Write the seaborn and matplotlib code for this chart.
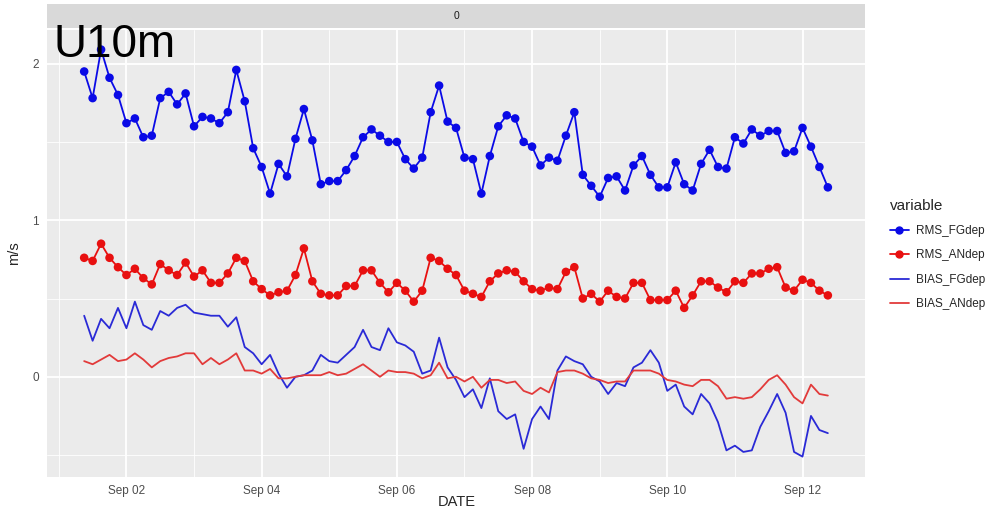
import matplotlib
matplotlib.use('Agg')
import matplotlib.pyplot as plt
import matplotlib.dates as mdates
from matplotlib.lines import Line2D
import pandas as pd
import seaborn as sns

# 3-hourly values, Sep 1 09:00 -> Sep 12 09:00
rms_fg = [1.95, 1.78, 2.09, 1.91, 1.80, 1.62, 1.65, 1.53, 1.54, 1.78,
          1.82, 1.74, 1.81, 1.60, 1.66, 1.65, 1.62, 1.69, 1.96, 1.76,
          1.46, 1.34, 1.17, 1.36, 1.28, 1.52, 1.71, 1.51, 1.23, 1.25,
          1.25, 1.32, 1.41, 1.53, 1.58, 1.54, 1.50, 1.50, 1.39, 1.33,
          1.40, 1.69, 1.86, 1.63, 1.59, 1.40, 1.39, 1.17, 1.41, 1.60,
          1.67, 1.65, 1.50, 1.47, 1.35, 1.40, 1.38, 1.54, 1.69, 1.29,
          1.22, 1.15, 1.27, 1.28, 1.19, 1.35, 1.41, 1.29, 1.21, 1.21,
          1.37, 1.23, 1.19, 1.36, 1.45, 1.34, 1.33, 1.53, 1.49, 1.58,
          1.54, 1.57, 1.57, 1.43, 1.44, 1.59, 1.47, 1.34, 1.21]
rms_an = [0.76, 0.74, 0.85, 0.76, 0.70, 0.65, 0.69, 0.63, 0.59, 0.72,
          0.68, 0.65, 0.73, 0.64, 0.68, 0.60, 0.60, 0.66, 0.76, 0.74,
          0.61, 0.56, 0.52, 0.54, 0.55, 0.65, 0.82, 0.61, 0.53, 0.52,
          0.52, 0.58, 0.58, 0.68, 0.68, 0.60, 0.54, 0.60, 0.55, 0.48,
          0.55, 0.76, 0.74, 0.69, 0.65, 0.55, 0.53, 0.51, 0.61, 0.66,
          0.68, 0.67, 0.61, 0.56, 0.55, 0.57, 0.56, 0.67, 0.70, 0.50,
          0.53, 0.48, 0.55, 0.51, 0.50, 0.60, 0.60, 0.49, 0.49, 0.49,
          0.55, 0.44, 0.52, 0.61, 0.61, 0.57, 0.54, 0.61, 0.60, 0.66,
          0.66, 0.69, 0.70, 0.57, 0.55, 0.62, 0.60, 0.55, 0.52]
bias_fg = [0.39, 0.23, 0.37, 0.31, 0.44, 0.31, 0.48, 0.33, 0.30, 0.42,
           0.39, 0.44, 0.46, 0.41, 0.40, 0.39, 0.39, 0.32, 0.38, 0.19,
           0.15, 0.08, 0.14, 0.02, -0.07, 0.00, 0.01, 0.04, 0.14, 0.10,
           0.09, 0.14, 0.19, 0.30, 0.19, 0.17, 0.31, 0.22, 0.20, 0.16,
           0.02, 0.04, 0.25, 0.06, -0.02, -0.13, -0.08, -0.20, -0.01, -0.22,
           -0.27, -0.24, -0.46, -0.27, -0.19, -0.27, 0.04, 0.13, 0.10, 0.08,
           0.00, -0.03, -0.11, -0.04, -0.06, 0.06, 0.09, 0.17, 0.09, -0.09,
           -0.05, -0.19, -0.24, -0.11, -0.17, -0.29, -0.47, -0.44, -0.48, -0.47,
           -0.32, -0.22, -0.11, -0.23, -0.48, -0.51, -0.25, -0.34, -0.36]
bias_an = [0.10, 0.08, 0.11, 0.14, 0.10, 0.11, 0.15, 0.11, 0.06, 0.10,
           0.12, 0.13, 0.15, 0.15, 0.08, 0.12, 0.08, 0.11, 0.15, 0.04,
           0.04, 0.02, 0.05, -0.01, -0.01, 0.00, 0.01, 0.01, 0.01, 0.03,
           0.01, 0.02, 0.05, 0.08, 0.04, 0.00, 0.04, 0.03, 0.03, 0.02,
           -0.01, 0.01, 0.09, -0.01, 0.00, -0.03, 0.00, -0.07, -0.02, -0.02,
           -0.04, -0.03, -0.09, -0.11, -0.07, -0.10, 0.03, 0.04, 0.04, 0.02,
           -0.01, -0.02, -0.04, -0.03, -0.03, 0.04, 0.04, 0.04, 0.02, -0.02,
           -0.03, -0.05, -0.06, -0.02, -0.02, -0.06, -0.14, -0.13, -0.14, -0.13,
           -0.08, -0.02, 0.01, -0.05, -0.13, -0.17, -0.05, -0.11, -0.12]

variables = ['RMS_FGdep', 'RMS_ANdep', 'BIAS_FGdep', 'BIAS_ANdep']
colors = {'RMS_FGdep': '#0A0AE6', 'RMS_ANdep': '#E81010',
          'BIAS_FGdep': '#2A2AD6', 'BIAS_ANdep': '#E23A3A'}

dates = pd.date_range('2016-09-01 09:00', periods=len(rms_fg), freq='3h')
wide = pd.DataFrame({'DATE': dates, 'RMS_FGdep': rms_fg, 'RMS_ANdep': rms_an,
                     'BIAS_FGdep': bias_fg, 'BIAS_ANdep': bias_an})
df = wide.melt(id_vars='DATE', var_name='variable', value_name='value')

sns.set_style('darkgrid', {'axes.facecolor': '#EBEBEB', 'grid.color': 'white'})
plt.rcParams['font.family'] = ['Liberation Sans', 'DejaVu Sans']

fig = plt.figure(figsize=(10.04, 5.12), dpi=100)
ax = fig.add_axes([0.0468, 0.0684, 0.8148, 0.873])

sns.lineplot(data=df, x='DATE', y='value', hue='variable', hue_order=variables,
             palette=colors, linewidth=1.3, legend=False, ax=ax)
pts = df[df['variable'].str.startswith('RMS')]
sns.scatterplot(data=pts, x='DATE', y='value', hue='variable',
                hue_order=variables[:2], palette=colors, s=38,
                edgecolor='none', legend=False, ax=ax, zorder=3)

pad = pd.Timedelta(days=0.55)
ax.set_xlim(dates[0] - pad, dates[-1] + pad)
ax.set_ylim(-0.64, 2.215)

ax.xaxis.set_major_locator(mdates.DayLocator(bymonthday=[2, 4, 6, 8, 10, 12]))
ax.xaxis.set_minor_locator(mdates.DayLocator(bymonthday=[1, 3, 5, 7, 9, 11, 13]))
ax.xaxis.set_major_formatter(mdates.DateFormatter('%b %d'))
ax.set_yticks([0, 1, 2])
ax.set_yticks([-0.5, 0.5, 1.5], minor=True)
ax.grid(which='major', color='white', linewidth=1.3)
ax.grid(which='minor', color='white', linewidth=0.6)
ax.tick_params(which='major', length=3, width=0.8, color='#333333',
               labelcolor='#4D4D4D', labelsize=8.5, pad=3)
ax.tick_params(which='minor', length=0)
for s in ax.spines.values():
    s.set_visible(False)

ax.set_xlabel('')
ax.set_ylabel('m/s', fontsize=10.5, labelpad=8)
# x title sits right at the bottom edge, as in the reference
fig.text(457 / 1004, 3 / 512, 'DATE', fontsize=10.5, ha='center', va='bottom')

# facet strip
sax = fig.add_axes([0.0468, 0.945, 0.8148, 0.047])
sax.set_facecolor('#D9D9D9')
sax.set_xticks([])
sax.set_yticks([])
for s in sax.spines.values():
    s.set_visible(False)
sax.text(0.5, 0.5, '0', ha='center', va='center', fontsize=7.5, color='#1A1A1A',
         transform=sax.transAxes)

fig.text(54 / 1004, 1 - 57 / 512, 'U10m', fontsize=33, color='black', va='baseline')

handles = [Line2D([], [], color=colors[v], lw=1.3,
                  marker='o' if v.startswith('RMS') else None, markersize=5)
           for v in variables]
leg = fig.legend(handles, variables, title='variable', loc='upper left',
                 bbox_to_anchor=(879 / 1004, 1 - 188 / 512), frameon=False,
                 fontsize=8.5, title_fontsize=11, handlelength=1.6,
                 handletextpad=0.6, labelspacing=1.05, alignment='left')

fig.savefig('out.png', dpi=100)
